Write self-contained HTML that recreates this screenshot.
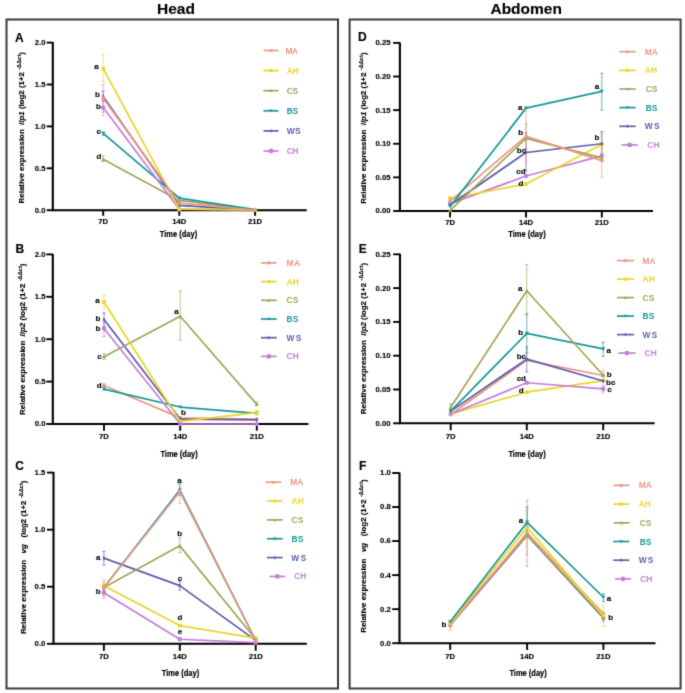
<!DOCTYPE html>
<html><head><meta charset="utf-8"><title>Figure</title>
<style>
html,body{margin:0;padding:0;background:#fff;}
body{width:685px;height:693px;overflow:hidden;}
svg{display:block;font-family:"Liberation Sans", sans-serif;will-change:transform;}
#wrap{width:685px;height:693px;}
.k{stroke:#000;stroke-width:0.14px;}
</style></head>
<body><div id="wrap">
<svg width="685" height="693" viewBox="0 0 685 693">
<defs><filter id="soft" x="0" y="0" width="685" height="693" filterUnits="userSpaceOnUse" color-interpolation-filters="sRGB"><feConvolveMatrix order="3" kernelMatrix="1 6 1 6 36 6 1 6 1" divisor="64" edgeMode="duplicate" preserveAlpha="true"/></filter></defs>
<g filter="url(#soft)">
<rect width="685" height="693" fill="#fff"/>
<rect x="6.5" y="19.5" width="331.5" height="669" fill="none" stroke="#3a3a3a" stroke-width="2"/>
<rect x="349.6" y="19.5" width="331" height="669" fill="none" stroke="#3a3a3a" stroke-width="2"/>
<text x="176" y="13.6" text-anchor="middle" font-size="15.5" font-weight="bold" class="k">Head</text>
<text x="526.2" y="13.6" text-anchor="middle" font-size="15.5" font-weight="bold" class="k">Abdomen</text>
<path d="M52.80,42.10V210.20H306.70" stroke="#000" stroke-width="2.1" fill="none"/>
<path d="M46.70,210.20H52.80" stroke="#000" stroke-width="1.9"/>
<text x="45.50" y="212.60" text-anchor="end" font-size="7.7" font-weight="bold" class="k">0.0</text>
<path d="M46.70,168.30H52.80" stroke="#000" stroke-width="1.9"/>
<text x="45.50" y="170.70" text-anchor="end" font-size="7.7" font-weight="bold" class="k">0.5</text>
<path d="M46.70,126.40H52.80" stroke="#000" stroke-width="1.9"/>
<text x="45.50" y="128.80" text-anchor="end" font-size="7.7" font-weight="bold" class="k">1.0</text>
<path d="M46.70,84.50H52.80" stroke="#000" stroke-width="1.9"/>
<text x="45.50" y="86.90" text-anchor="end" font-size="7.7" font-weight="bold" class="k">1.5</text>
<path d="M46.70,42.60H52.80" stroke="#000" stroke-width="1.9"/>
<text x="45.50" y="45.00" text-anchor="end" font-size="7.7" font-weight="bold" class="k">2.0</text>
<path d="M103.20,210.20V215.80" stroke="#000" stroke-width="1.9"/>
<text x="103.20" y="223.70" text-anchor="middle" font-size="7.7" font-weight="bold" class="k">7D</text>
<path d="M179.30,210.20V215.80" stroke="#000" stroke-width="1.9"/>
<text x="179.30" y="223.70" text-anchor="middle" font-size="7.7" font-weight="bold" class="k">14D</text>
<path d="M255.10,210.20V215.80" stroke="#000" stroke-width="1.9"/>
<text x="255.10" y="223.70" text-anchor="middle" font-size="7.7" font-weight="bold" class="k">21D</text>
<text x="178.50" y="236.70" text-anchor="middle" font-size="8.3" font-weight="bold" stroke="#000" stroke-width="0.18" textLength="37.4" lengthAdjust="spacingAndGlyphs">Time (day)</text>
<text x="15.10" y="41.50" font-size="12" font-weight="bold" class="k">A</text>
<text transform="translate(24.20,203.40) rotate(-90)" font-size="7.9" font-weight="bold" class="k" style="white-space:pre">Relative expression  <tspan font-style="italic">ilp1</tspan> (log2 (1+2 <tspan font-size="5.7" dy="-3.3">-ΔΔct</tspan><tspan dy="3.3">)</tspan></text>
<path d="M103.20,155.73V161.60M101.60,155.73h3.2M101.60,161.60h3.2" stroke="#A4A45A" stroke-width="0.9" fill="none" opacity="0.75"/>
<path d="M103.20,132.27V135.62M101.60,132.27h3.2M101.60,135.62h3.2" stroke="#17979A" stroke-width="0.9" fill="none" opacity="0.75"/>
<path d="M103.20,99.58V112.15M101.60,99.58h3.2M101.60,112.15h3.2" stroke="#C67ED9" stroke-width="0.9" fill="none" opacity="0.75"/>
<path d="M103.20,91.20V101.26M101.60,91.20h3.2M101.60,101.26h3.2" stroke="#5C5CAC" stroke-width="0.9" fill="none" opacity="0.75"/>
<path d="M103.20,54.33V81.99M101.60,54.33h3.2M101.60,81.99h3.2" stroke="#E9D628" stroke-width="0.9" fill="none" opacity="0.75"/>
<path d="M103.20,84.50V115.51M101.60,84.50h3.2M101.60,115.51h3.2" stroke="#EA9880" stroke-width="0.9" fill="none" opacity="0.75"/>
<polyline points="103.20,159.33 179.30,200.40 255.10,209.86" stroke="#A4A45A" stroke-width="1.7" fill="none" stroke-linejoin="round"/>
<path d="M103.20,157.33L105.20,160.93L101.20,160.93Z" fill="#A4A45A"/>
<path d="M179.30,198.40L181.30,202.00L177.30,202.00Z" fill="#A4A45A"/>
<path d="M255.10,207.86L257.10,211.46L253.10,211.46Z" fill="#A4A45A"/>
<polyline points="103.20,133.36 179.30,198.05 255.10,209.70" stroke="#17979A" stroke-width="1.7" fill="none" stroke-linejoin="round"/>
<path d="M103.20,135.36L105.20,131.76L101.20,131.76Z" fill="#17979A"/>
<path d="M179.30,200.05L181.30,196.45L177.30,196.45Z" fill="#17979A"/>
<path d="M255.10,211.70L257.10,208.10L253.10,208.10Z" fill="#17979A"/>
<polyline points="103.20,107.54 179.30,209.19 255.10,209.86" stroke="#C67ED9" stroke-width="1.7" fill="none" stroke-linejoin="round"/>
<circle cx="103.20" cy="107.54" r="2.20" fill="#C67ED9"/>
<circle cx="179.30" cy="209.19" r="2.20" fill="#C67ED9"/>
<circle cx="255.10" cy="209.86" r="2.20" fill="#C67ED9"/>
<polyline points="103.20,96.40 179.30,205.34 255.10,210.03" stroke="#5C5CAC" stroke-width="1.7" fill="none" stroke-linejoin="round"/>
<path d="M103.20,94.10L104.50,96.40L103.20,98.70L101.90,96.40Z" fill="#5C5CAC"/>
<path d="M179.30,203.04L180.60,205.34L179.30,207.64L178.00,205.34Z" fill="#5C5CAC"/>
<path d="M255.10,207.73L256.40,210.03L255.10,212.33L253.80,210.03Z" fill="#5C5CAC"/>
<polyline points="103.20,68.58 179.30,209.19 255.10,209.86" stroke="#E9D628" stroke-width="1.7" fill="none" stroke-linejoin="round"/>
<rect x="101.40" y="66.78" width="3.60" height="3.60" fill="#E9D628"/>
<rect x="177.50" y="207.39" width="3.60" height="3.60" fill="#E9D628"/>
<rect x="253.30" y="208.06" width="3.60" height="3.60" fill="#E9D628"/>
<polyline points="103.20,98.16 179.30,202.99 255.10,210.20" stroke="#EA9880" stroke-width="1.7" fill="none" stroke-linejoin="round"/>
<circle cx="103.20" cy="98.16" r="1.80" fill="#EA9880"/>
<circle cx="179.30" cy="202.99" r="1.80" fill="#EA9880"/>
<circle cx="255.10" cy="210.20" r="1.80" fill="#EA9880"/>
<text x="96.60" y="69.20" text-anchor="middle" font-size="8" font-weight="bold" class="k">a</text>
<text x="97.50" y="97.00" text-anchor="middle" font-size="8" font-weight="bold" class="k">b</text>
<text x="98.40" y="109.10" text-anchor="middle" font-size="8" font-weight="bold" class="k">b</text>
<text x="98.70" y="134.00" text-anchor="middle" font-size="8" font-weight="bold" class="k">c</text>
<text x="98.90" y="159.20" text-anchor="middle" font-size="8" font-weight="bold" class="k">d</text>
<path d="M263.50,50.50H278.50" stroke="#EA9880" stroke-width="1.7"/>
<circle cx="271.00" cy="50.50" r="1.53" fill="#EA9880"/>
<text x="285.50" y="53.50" font-size="8.4" font-weight="bold" letter-spacing="-0.4" fill="#EA9880">MA</text>
<path d="M263.50,70.60H278.50" stroke="#E9D628" stroke-width="1.7"/>
<rect x="269.47" y="69.07" width="3.06" height="3.06" fill="#E9D628"/>
<text x="286.80" y="73.60" font-size="8.4" font-weight="bold" letter-spacing="-0.4" fill="#E9D628">AH</text>
<path d="M263.50,90.70H278.50" stroke="#A4A45A" stroke-width="1.7"/>
<path d="M271.00,89.00L272.70,92.06L269.30,92.06Z" fill="#A4A45A"/>
<text x="286.80" y="93.70" font-size="8.4" font-weight="bold" letter-spacing="-0.4" fill="#A4A45A">CS</text>
<path d="M263.50,110.80H278.50" stroke="#17979A" stroke-width="1.7"/>
<path d="M271.00,112.50L272.70,109.44L269.30,109.44Z" fill="#17979A"/>
<text x="286.80" y="113.80" font-size="8.4" font-weight="bold" letter-spacing="-0.4" fill="#17979A">BS</text>
<path d="M263.50,130.90H278.50" stroke="#5C5CAC" stroke-width="1.7"/>
<path d="M271.00,128.94L272.11,130.90L271.00,132.86L269.89,130.90Z" fill="#5C5CAC"/>
<text x="286.80" y="133.90" font-size="8.4" font-weight="bold" letter-spacing="0.4" fill="#5C5CAC">WS</text>
<path d="M263.50,151.00H278.50" stroke="#C67ED9" stroke-width="1.7"/>
<circle cx="271.00" cy="151.00" r="2.38" fill="#C67ED9"/>
<text x="286.80" y="154.00" font-size="8.4" font-weight="bold" letter-spacing="-0.4" fill="#C67ED9">CH</text>
<path d="M52.80,253.90V424.00H308.40" stroke="#000" stroke-width="2.1" fill="none"/>
<path d="M46.30,424.00H52.80" stroke="#000" stroke-width="1.9"/>
<text x="45.50" y="426.40" text-anchor="end" font-size="7.7" font-weight="bold" class="k">0.0</text>
<path d="M46.30,381.60H52.80" stroke="#000" stroke-width="1.9"/>
<text x="45.50" y="384.00" text-anchor="end" font-size="7.7" font-weight="bold" class="k">0.5</text>
<path d="M46.30,339.20H52.80" stroke="#000" stroke-width="1.9"/>
<text x="45.50" y="341.60" text-anchor="end" font-size="7.7" font-weight="bold" class="k">1.0</text>
<path d="M46.30,296.80H52.80" stroke="#000" stroke-width="1.9"/>
<text x="45.50" y="299.20" text-anchor="end" font-size="7.7" font-weight="bold" class="k">1.5</text>
<path d="M46.30,254.40H52.80" stroke="#000" stroke-width="1.9"/>
<text x="45.50" y="256.80" text-anchor="end" font-size="7.7" font-weight="bold" class="k">2.0</text>
<path d="M104.00,424.00V430.70" stroke="#000" stroke-width="1.9"/>
<text x="104.00" y="439.00" text-anchor="middle" font-size="7.7" font-weight="bold" class="k">7D</text>
<path d="M180.20,424.00V430.70" stroke="#000" stroke-width="1.9"/>
<text x="180.20" y="439.00" text-anchor="middle" font-size="7.7" font-weight="bold" class="k">14D</text>
<path d="M256.80,424.00V430.70" stroke="#000" stroke-width="1.9"/>
<text x="256.80" y="439.00" text-anchor="middle" font-size="7.7" font-weight="bold" class="k">21D</text>
<text x="179.10" y="457.10" text-anchor="middle" font-size="8.3" font-weight="bold" stroke="#000" stroke-width="0.18" textLength="37.4" lengthAdjust="spacingAndGlyphs">Time (day)</text>
<text x="15.60" y="252.80" font-size="12" font-weight="bold" class="k">B</text>
<text transform="translate(24.80,414.90) rotate(-90)" font-size="7.9" font-weight="bold" class="k" style="white-space:pre">Relative expression  <tspan font-style="italic">ilp2</tspan> (log2 (1+2 <tspan font-size="5.7" dy="-3.3">-ΔΔct</tspan><tspan dy="3.3">)</tspan></text>
<path d="M104.00,383.30V387.54M102.40,383.30h3.2M102.40,387.54h3.2" stroke="#EA9880" stroke-width="0.9" fill="none" opacity="0.75"/>
<path d="M104.00,386.69V390.08M102.40,386.69h3.2M102.40,390.08h3.2" stroke="#17979A" stroke-width="0.9" fill="none" opacity="0.75"/>
<path d="M104.00,312.91V326.48M102.40,312.91h3.2M102.40,326.48h3.2" stroke="#5C5CAC" stroke-width="0.9" fill="none" opacity="0.75"/>
<path d="M104.00,353.62V359.55M102.40,353.62h3.2M102.40,359.55h3.2" stroke="#A4A45A" stroke-width="0.9" fill="none" opacity="0.75"/>
<path d="M180.20,290.86V340.05M178.60,290.86h3.2M178.60,340.05h3.2" stroke="#A4A45A" stroke-width="0.9" fill="none" opacity="0.75"/>
<path d="M256.80,401.95V405.34M255.20,401.95h3.2M255.20,405.34h3.2" stroke="#A4A45A" stroke-width="0.9" fill="none" opacity="0.75"/>
<path d="M104.00,295.10V308.67M102.40,295.10h3.2M102.40,308.67h3.2" stroke="#E9D628" stroke-width="0.9" fill="none" opacity="0.75"/>
<path d="M256.80,410.43V414.67M255.20,410.43h3.2M255.20,414.67h3.2" stroke="#E9D628" stroke-width="0.9" fill="none" opacity="0.75"/>
<path d="M104.00,322.24V336.66M102.40,322.24h3.2M102.40,336.66h3.2" stroke="#C67ED9" stroke-width="0.9" fill="none" opacity="0.75"/>
<polyline points="104.00,385.50 180.20,417.89 256.80,419.08" stroke="#EA9880" stroke-width="1.7" fill="none" stroke-linejoin="round"/>
<circle cx="104.00" cy="385.50" r="1.80" fill="#EA9880"/>
<circle cx="180.20" cy="417.89" r="1.80" fill="#EA9880"/>
<circle cx="256.80" cy="419.08" r="1.80" fill="#EA9880"/>
<polyline points="104.00,389.06 180.20,407.04 256.80,413.40" stroke="#17979A" stroke-width="1.7" fill="none" stroke-linejoin="round"/>
<path d="M104.00,391.06L106.00,387.46L102.00,387.46Z" fill="#17979A"/>
<path d="M180.20,409.04L182.20,405.44L178.20,405.44Z" fill="#17979A"/>
<path d="M256.80,415.40L258.80,411.80L254.80,411.80Z" fill="#17979A"/>
<polyline points="104.00,319.53 180.20,419.08 256.80,419.93" stroke="#5C5CAC" stroke-width="1.7" fill="none" stroke-linejoin="round"/>
<path d="M104.00,317.23L105.30,319.53L104.00,321.83L102.70,319.53Z" fill="#5C5CAC"/>
<path d="M180.20,416.78L181.50,419.08L180.20,421.38L178.90,419.08Z" fill="#5C5CAC"/>
<path d="M256.80,417.63L258.10,419.93L256.80,422.23L255.50,419.93Z" fill="#5C5CAC"/>
<polyline points="104.00,356.67 180.20,316.30 256.80,404.33" stroke="#A4A45A" stroke-width="1.7" fill="none" stroke-linejoin="round"/>
<path d="M104.00,354.67L106.00,358.27L102.00,358.27Z" fill="#A4A45A"/>
<path d="M180.20,314.30L182.20,317.90L178.20,317.90Z" fill="#A4A45A"/>
<path d="M256.80,402.33L258.80,405.93L254.80,405.93Z" fill="#A4A45A"/>
<polyline points="104.00,302.06 180.20,421.46 256.80,412.55" stroke="#E9D628" stroke-width="1.7" fill="none" stroke-linejoin="round"/>
<rect x="102.20" y="300.26" width="3.60" height="3.60" fill="#E9D628"/>
<rect x="178.40" y="419.66" width="3.60" height="3.60" fill="#E9D628"/>
<rect x="255.00" y="410.75" width="3.60" height="3.60" fill="#E9D628"/>
<polyline points="104.00,328.52 180.20,424.00 256.80,424.00" stroke="#C67ED9" stroke-width="1.7" fill="none" stroke-linejoin="round"/>
<circle cx="104.00" cy="328.52" r="2.20" fill="#C67ED9"/>
<circle cx="180.20" cy="424.00" r="2.20" fill="#C67ED9"/>
<circle cx="256.80" cy="424.00" r="2.20" fill="#C67ED9"/>
<text x="97.50" y="303.10" text-anchor="middle" font-size="8" font-weight="bold" class="k">a</text>
<text x="97.90" y="320.80" text-anchor="middle" font-size="8" font-weight="bold" class="k">b</text>
<text x="97.90" y="330.80" text-anchor="middle" font-size="8" font-weight="bold" class="k">b</text>
<text x="99.40" y="359.10" text-anchor="middle" font-size="8" font-weight="bold" class="k">c</text>
<text x="99.30" y="388.10" text-anchor="middle" font-size="8" font-weight="bold" class="k">d</text>
<text x="183.50" y="415.00" text-anchor="middle" font-size="8" font-weight="bold" class="k">b</text>
<text x="176.40" y="314.20" text-anchor="middle" font-size="8" font-weight="bold" class="k">a</text>
<path d="M261.00,262.90H276.70" stroke="#EA9880" stroke-width="1.7"/>
<circle cx="268.85" cy="262.90" r="1.53" fill="#EA9880"/>
<text x="286.50" y="265.90" font-size="8.4" font-weight="bold" letter-spacing="0.4" fill="#EA9880">MA</text>
<path d="M261.00,281.60H276.70" stroke="#E9D628" stroke-width="1.7"/>
<rect x="267.32" y="280.07" width="3.06" height="3.06" fill="#E9D628"/>
<text x="286.50" y="284.60" font-size="8.4" font-weight="bold" letter-spacing="0.2" fill="#E9D628">AH</text>
<path d="M261.00,300.30H276.70" stroke="#A4A45A" stroke-width="1.7"/>
<path d="M268.85,298.60L270.55,301.66L267.15,301.66Z" fill="#A4A45A"/>
<text x="286.50" y="303.30" font-size="8.4" font-weight="bold" letter-spacing="0.2" fill="#A4A45A">CS</text>
<path d="M261.00,319.00H276.70" stroke="#17979A" stroke-width="1.7"/>
<path d="M268.85,320.70L270.55,317.64L267.15,317.64Z" fill="#17979A"/>
<text x="286.50" y="322.00" font-size="8.4" font-weight="bold" letter-spacing="0.2" fill="#17979A">BS</text>
<path d="M261.00,337.70H276.70" stroke="#5C5CAC" stroke-width="1.7"/>
<path d="M268.85,335.75L269.96,337.70L268.85,339.65L267.75,337.70Z" fill="#5C5CAC"/>
<text x="286.50" y="340.70" font-size="8.4" font-weight="bold" letter-spacing="1.3" fill="#5C5CAC">WS</text>
<path d="M261.00,356.40H276.70" stroke="#C67ED9" stroke-width="1.7"/>
<circle cx="268.85" cy="356.40" r="2.38" fill="#C67ED9"/>
<text x="286.50" y="359.40" font-size="8.4" font-weight="bold" letter-spacing="0.2" fill="#C67ED9">CH</text>
<path d="M53.50,472.10V643.80H306.90" stroke="#000" stroke-width="2.1" fill="none"/>
<path d="M47.00,643.80H53.50" stroke="#000" stroke-width="1.9"/>
<text x="45.30" y="646.20" text-anchor="end" font-size="7.7" font-weight="bold" class="k">0.0</text>
<path d="M47.00,586.73H53.50" stroke="#000" stroke-width="1.9"/>
<text x="45.30" y="589.13" text-anchor="end" font-size="7.7" font-weight="bold" class="k">0.5</text>
<path d="M47.00,529.67H53.50" stroke="#000" stroke-width="1.9"/>
<text x="45.30" y="532.07" text-anchor="end" font-size="7.7" font-weight="bold" class="k">1.0</text>
<path d="M47.00,472.60H53.50" stroke="#000" stroke-width="1.9"/>
<text x="45.30" y="475.00" text-anchor="end" font-size="7.7" font-weight="bold" class="k">1.5</text>
<path d="M103.90,643.80V650.80" stroke="#000" stroke-width="1.9"/>
<text x="103.90" y="659.10" text-anchor="middle" font-size="7.7" font-weight="bold" class="k">7D</text>
<path d="M179.80,643.80V650.80" stroke="#000" stroke-width="1.9"/>
<text x="179.80" y="659.10" text-anchor="middle" font-size="7.7" font-weight="bold" class="k">14D</text>
<path d="M255.70,643.80V650.80" stroke="#000" stroke-width="1.9"/>
<text x="255.70" y="659.10" text-anchor="middle" font-size="7.7" font-weight="bold" class="k">21D</text>
<text x="180.50" y="676.00" text-anchor="middle" font-size="8.3" font-weight="bold" stroke="#000" stroke-width="0.18" textLength="37.4" lengthAdjust="spacingAndGlyphs">Time (day)</text>
<text x="15.20" y="470.00" font-size="12" font-weight="bold" class="k">C</text>
<text transform="translate(26.00,634.10) rotate(-90)" font-size="7.9" font-weight="bold" class="k" style="white-space:pre">Relative expression   <tspan font-style="italic">vg</tspan>   (log2 (1+2 <tspan font-size="5.7" dy="-3.3">-ΔΔct</tspan><tspan dy="3.3">)</tspan></text>
<path d="M103.90,551.35V565.05M102.30,551.35h3.2M102.30,565.05h3.2" stroke="#5C5CAC" stroke-width="0.9" fill="none" opacity="0.75"/>
<path d="M179.80,581.03V590.16M178.20,581.03h3.2M178.20,590.16h3.2" stroke="#5C5CAC" stroke-width="0.9" fill="none" opacity="0.75"/>
<path d="M103.90,584.45V590.16M102.30,584.45h3.2M102.30,590.16h3.2" stroke="#A4A45A" stroke-width="0.9" fill="none" opacity="0.75"/>
<path d="M179.80,537.66V552.49M178.20,537.66h3.2M178.20,552.49h3.2" stroke="#A4A45A" stroke-width="0.9" fill="none" opacity="0.75"/>
<path d="M103.90,582.17V590.16M102.30,582.17h3.2M102.30,590.16h3.2" stroke="#E9D628" stroke-width="0.9" fill="none" opacity="0.75"/>
<path d="M103.90,589.02V595.86M102.30,589.02h3.2M102.30,595.86h3.2" stroke="#C67ED9" stroke-width="0.9" fill="none" opacity="0.75"/>
<path d="M103.90,584.45V591.30M102.30,584.45h3.2M102.30,591.30h3.2" stroke="#17979A" stroke-width="0.9" fill="none" opacity="0.75"/>
<path d="M179.80,484.01V495.43M178.20,484.01h3.2M178.20,495.43h3.2" stroke="#17979A" stroke-width="0.9" fill="none" opacity="0.75"/>
<path d="M103.90,579.89V598.15M102.30,579.89h3.2M102.30,598.15h3.2" stroke="#EA9880" stroke-width="0.9" fill="none" opacity="0.75"/>
<path d="M179.80,486.30V503.42M178.20,486.30h3.2M178.20,503.42h3.2" stroke="#EA9880" stroke-width="0.9" fill="none" opacity="0.75"/>
<polyline points="103.90,558.09 179.80,585.59 255.70,640.38" stroke="#5C5CAC" stroke-width="1.7" fill="none" stroke-linejoin="round"/>
<path d="M103.90,555.79L105.20,558.09L103.90,560.39L102.60,558.09Z" fill="#5C5CAC"/>
<path d="M179.80,583.29L181.10,585.59L179.80,587.89L178.50,585.59Z" fill="#5C5CAC"/>
<path d="M255.70,638.08L257.00,640.38L255.70,642.68L254.40,640.38Z" fill="#5C5CAC"/>
<polyline points="103.90,587.53 179.80,545.87 255.70,639.23" stroke="#A4A45A" stroke-width="1.7" fill="none" stroke-linejoin="round"/>
<path d="M103.90,585.53L105.90,589.13L101.90,589.13Z" fill="#A4A45A"/>
<path d="M179.80,543.87L181.80,547.47L177.80,547.47Z" fill="#A4A45A"/>
<path d="M255.70,637.23L257.70,640.83L253.70,640.83Z" fill="#A4A45A"/>
<polyline points="103.90,585.82 179.80,625.54 255.70,638.09" stroke="#E9D628" stroke-width="1.7" fill="none" stroke-linejoin="round"/>
<rect x="102.10" y="584.02" width="3.60" height="3.60" fill="#E9D628"/>
<rect x="178.00" y="623.74" width="3.60" height="3.60" fill="#E9D628"/>
<rect x="253.90" y="636.29" width="3.60" height="3.60" fill="#E9D628"/>
<polyline points="103.90,592.78 179.80,639.23 255.70,642.66" stroke="#C67ED9" stroke-width="1.7" fill="none" stroke-linejoin="round"/>
<circle cx="103.90" cy="592.78" r="2.20" fill="#C67ED9"/>
<circle cx="179.80" cy="639.23" r="2.20" fill="#C67ED9"/>
<circle cx="255.70" cy="642.66" r="2.20" fill="#C67ED9"/>
<polyline points="103.90,587.53 179.80,490.06 255.70,640.38" stroke="#17979A" stroke-width="1.7" fill="none" stroke-linejoin="round"/>
<path d="M103.90,589.53L105.90,585.93L101.90,585.93Z" fill="#17979A"/>
<path d="M179.80,492.06L181.80,488.46L177.80,488.46Z" fill="#17979A"/>
<path d="M255.70,642.38L257.70,638.78L253.70,638.78Z" fill="#17979A"/>
<polyline points="103.90,587.53 179.80,491.66 255.70,640.38" stroke="#EA9880" stroke-width="1.7" fill="none" stroke-linejoin="round"/>
<circle cx="103.90" cy="587.53" r="1.80" fill="#EA9880"/>
<circle cx="179.80" cy="491.66" r="1.80" fill="#EA9880"/>
<circle cx="255.70" cy="640.38" r="1.80" fill="#EA9880"/>
<text x="98.30" y="559.60" text-anchor="middle" font-size="8" font-weight="bold" class="k">a</text>
<text x="98.30" y="593.90" text-anchor="middle" font-size="8" font-weight="bold" class="k">b</text>
<text x="179.60" y="483.10" text-anchor="middle" font-size="8" font-weight="bold" class="k">a</text>
<text x="179.60" y="536.20" text-anchor="middle" font-size="8" font-weight="bold" class="k">b</text>
<text x="179.90" y="580.50" text-anchor="middle" font-size="8" font-weight="bold" class="k">c</text>
<text x="179.90" y="619.50" text-anchor="middle" font-size="8" font-weight="bold" class="k">d</text>
<text x="179.90" y="634.20" text-anchor="middle" font-size="8" font-weight="bold" class="k">e</text>
<path d="M265.50,482.20H281.20" stroke="#EA9880" stroke-width="1.7"/>
<circle cx="273.35" cy="482.20" r="1.53" fill="#EA9880"/>
<text x="290.30" y="485.20" font-size="8.4" font-weight="bold" letter-spacing="0.1" fill="#EA9880">MA</text>
<path d="M267.00,501.05H282.70" stroke="#E9D628" stroke-width="1.7"/>
<rect x="273.32" y="499.52" width="3.06" height="3.06" fill="#E9D628"/>
<text x="291.60" y="504.05" font-size="8.4" font-weight="bold" letter-spacing="0.1" fill="#E9D628">AH</text>
<path d="M267.00,519.90H282.70" stroke="#A4A45A" stroke-width="1.7"/>
<path d="M274.85,518.20L276.55,521.26L273.15,521.26Z" fill="#A4A45A"/>
<text x="291.60" y="522.90" font-size="8.4" font-weight="bold" letter-spacing="0.1" fill="#A4A45A">CS</text>
<path d="M267.00,538.75H282.70" stroke="#17979A" stroke-width="1.7"/>
<path d="M274.85,540.45L276.55,537.39L273.15,537.39Z" fill="#17979A"/>
<text x="291.60" y="541.75" font-size="8.4" font-weight="bold" letter-spacing="0.1" fill="#17979A">BS</text>
<path d="M267.00,557.60H282.70" stroke="#5C5CAC" stroke-width="1.7"/>
<path d="M274.85,555.64L275.96,557.60L274.85,559.56L273.75,557.60Z" fill="#5C5CAC"/>
<text x="291.30" y="560.60" font-size="8.4" font-weight="bold" letter-spacing="1.3" fill="#5C5CAC">WS</text>
<path d="M269.60,576.45H285.30" stroke="#C67ED9" stroke-width="1.7"/>
<circle cx="277.45" cy="576.45" r="2.38" fill="#C67ED9"/>
<text x="294.20" y="579.45" font-size="8.4" font-weight="bold" letter-spacing="0.1" fill="#C67ED9">CH</text>
<path d="M399.90,42.40V211.00H653.00" stroke="#000" stroke-width="2.1" fill="none"/>
<path d="M393.20,211.00H399.90" stroke="#000" stroke-width="1.9"/>
<text x="390.50" y="213.40" text-anchor="end" font-size="7.7" font-weight="bold" class="k">0.00</text>
<path d="M393.20,177.38H399.90" stroke="#000" stroke-width="1.9"/>
<text x="390.50" y="179.78" text-anchor="end" font-size="7.7" font-weight="bold" class="k">0.05</text>
<path d="M393.20,143.76H399.90" stroke="#000" stroke-width="1.9"/>
<text x="390.50" y="146.16" text-anchor="end" font-size="7.7" font-weight="bold" class="k">0.10</text>
<path d="M393.20,110.14H399.90" stroke="#000" stroke-width="1.9"/>
<text x="390.50" y="112.54" text-anchor="end" font-size="7.7" font-weight="bold" class="k">0.15</text>
<path d="M393.20,76.52H399.90" stroke="#000" stroke-width="1.9"/>
<text x="390.50" y="78.92" text-anchor="end" font-size="7.7" font-weight="bold" class="k">0.20</text>
<path d="M393.20,42.90H399.90" stroke="#000" stroke-width="1.9"/>
<text x="390.50" y="45.30" text-anchor="end" font-size="7.7" font-weight="bold" class="k">0.25</text>
<path d="M450.10,211.00V217.50" stroke="#000" stroke-width="1.9"/>
<text x="450.10" y="225.40" text-anchor="middle" font-size="7.7" font-weight="bold" class="k">7D</text>
<path d="M526.00,211.00V217.50" stroke="#000" stroke-width="1.9"/>
<text x="526.00" y="225.40" text-anchor="middle" font-size="7.7" font-weight="bold" class="k">14D</text>
<path d="M601.80,211.00V217.50" stroke="#000" stroke-width="1.9"/>
<text x="601.80" y="225.40" text-anchor="middle" font-size="7.7" font-weight="bold" class="k">21D</text>
<text x="527.00" y="236.70" text-anchor="middle" font-size="8.3" font-weight="bold" stroke="#000" stroke-width="0.18" textLength="37.4" lengthAdjust="spacingAndGlyphs">Time (day)</text>
<text x="357.90" y="41.30" font-size="12" font-weight="bold" class="k">D</text>
<text transform="translate(366.20,203.80) rotate(-90)" font-size="7.9" font-weight="bold" class="k" style="white-space:pre">Relative expression  <tspan font-style="italic">ilp1</tspan> (log2 (1+2 <tspan font-size="5.7" dy="-3.3">-ΔΔct</tspan><tspan dy="3.3">)</tspan></text>
<path d="M601.80,133.67V153.85M600.20,133.67h3.2M600.20,153.85h3.2" stroke="#E9D628" stroke-width="0.9" fill="none" opacity="0.75"/>
<path d="M526.00,133.00V170.66M524.40,133.00h3.2M524.40,170.66h3.2" stroke="#5C5CAC" stroke-width="0.9" fill="none" opacity="0.75"/>
<path d="M601.80,131.66V153.85M600.20,131.66h3.2M600.20,153.85h3.2" stroke="#5C5CAC" stroke-width="0.9" fill="none" opacity="0.75"/>
<path d="M526.00,123.59V148.47M524.40,123.59h3.2M524.40,148.47h3.2" stroke="#A4A45A" stroke-width="0.9" fill="none" opacity="0.75"/>
<path d="M526.00,111.48V161.91M524.40,111.48h3.2M524.40,161.91h3.2" stroke="#EA9880" stroke-width="0.9" fill="none" opacity="0.75"/>
<path d="M601.80,148.47V177.38M600.20,148.47h3.2M600.20,177.38h3.2" stroke="#EA9880" stroke-width="0.9" fill="none" opacity="0.75"/>
<path d="M601.80,73.16V110.14M600.20,73.16h3.2M600.20,110.14h3.2" stroke="#17979A" stroke-width="0.9" fill="none" opacity="0.75"/>
<polyline points="450.10,203.60 526.00,176.04 601.80,155.86" stroke="#C67ED9" stroke-width="1.7" fill="none" stroke-linejoin="round"/>
<circle cx="450.10" cy="203.60" r="2.20" fill="#C67ED9"/>
<circle cx="526.00" cy="176.04" r="2.20" fill="#C67ED9"/>
<circle cx="601.80" cy="155.86" r="2.20" fill="#C67ED9"/>
<polyline points="450.10,198.22 526.00,184.10 601.80,144.43" stroke="#E9D628" stroke-width="1.7" fill="none" stroke-linejoin="round"/>
<rect x="448.30" y="196.42" width="3.60" height="3.60" fill="#E9D628"/>
<rect x="524.20" y="182.30" width="3.60" height="3.60" fill="#E9D628"/>
<rect x="600.00" y="142.63" width="3.60" height="3.60" fill="#E9D628"/>
<polyline points="450.10,204.95 526.00,152.50 601.80,143.76" stroke="#5C5CAC" stroke-width="1.7" fill="none" stroke-linejoin="round"/>
<path d="M450.10,202.65L451.40,204.95L450.10,207.25L448.80,204.95Z" fill="#5C5CAC"/>
<path d="M526.00,150.20L527.30,152.50L526.00,154.80L524.70,152.50Z" fill="#5C5CAC"/>
<path d="M601.80,141.46L603.10,143.76L601.80,146.06L600.50,143.76Z" fill="#5C5CAC"/>
<polyline points="450.10,210.33 526.00,138.38 601.80,157.88" stroke="#A4A45A" stroke-width="1.7" fill="none" stroke-linejoin="round"/>
<path d="M450.10,208.33L452.10,211.93L448.10,211.93Z" fill="#A4A45A"/>
<path d="M526.00,136.38L528.00,139.98L524.00,139.98Z" fill="#A4A45A"/>
<path d="M601.80,155.88L603.80,159.48L599.80,159.48Z" fill="#A4A45A"/>
<polyline points="450.10,201.18 526.00,136.36 601.80,160.57" stroke="#EA9880" stroke-width="1.7" fill="none" stroke-linejoin="round"/>
<circle cx="450.10" cy="201.18" r="1.80" fill="#EA9880"/>
<circle cx="526.00" cy="136.36" r="1.80" fill="#EA9880"/>
<circle cx="601.80" cy="160.57" r="1.80" fill="#EA9880"/>
<polyline points="450.10,206.49 526.00,108.12 601.80,91.31" stroke="#17979A" stroke-width="1.7" fill="none" stroke-linejoin="round"/>
<path d="M450.10,208.49L452.10,204.89L448.10,204.89Z" fill="#17979A"/>
<path d="M526.00,110.12L528.00,106.52L524.00,106.52Z" fill="#17979A"/>
<path d="M601.80,93.31L603.80,89.71L599.80,89.71Z" fill="#17979A"/>
<text x="520.20" y="109.60" text-anchor="middle" font-size="8" font-weight="bold" class="k">a</text>
<text x="520.60" y="135.40" text-anchor="middle" font-size="8" font-weight="bold" class="k">b</text>
<text x="521.50" y="153.30" text-anchor="middle" font-size="8" font-weight="bold" class="k">bc</text>
<text x="521.00" y="173.80" text-anchor="middle" font-size="8" font-weight="bold" class="k">cd</text>
<text x="521.00" y="186.20" text-anchor="middle" font-size="8" font-weight="bold" class="k">d</text>
<text x="597.00" y="88.80" text-anchor="middle" font-size="8" font-weight="bold" class="k">a</text>
<text x="597.00" y="140.40" text-anchor="middle" font-size="8" font-weight="bold" class="k">b</text>
<path d="M619.30,51.70H635.70" stroke="#EA9880" stroke-width="1.7"/>
<circle cx="627.50" cy="51.70" r="1.53" fill="#EA9880"/>
<text x="644.80" y="54.70" font-size="8.4" font-weight="bold" letter-spacing="0.1" fill="#EA9880">MA</text>
<path d="M619.30,70.35H635.70" stroke="#E9D628" stroke-width="1.7"/>
<rect x="625.97" y="68.82" width="3.06" height="3.06" fill="#E9D628"/>
<text x="644.80" y="73.35" font-size="8.4" font-weight="bold" letter-spacing="0.1" fill="#E9D628">AH</text>
<path d="M619.30,89.00H635.70" stroke="#A4A45A" stroke-width="1.7"/>
<path d="M627.50,87.30L629.20,90.36L625.80,90.36Z" fill="#A4A45A"/>
<text x="645.70" y="92.00" font-size="8.4" font-weight="bold" letter-spacing="0.1" fill="#A4A45A">CS</text>
<path d="M619.30,107.65H635.70" stroke="#17979A" stroke-width="1.7"/>
<path d="M627.50,109.35L629.20,106.29L625.80,106.29Z" fill="#17979A"/>
<text x="645.70" y="110.65" font-size="8.4" font-weight="bold" letter-spacing="0.1" fill="#17979A">BS</text>
<path d="M619.30,126.30H635.70" stroke="#5C5CAC" stroke-width="1.7"/>
<path d="M627.50,124.34L628.61,126.30L627.50,128.25L626.39,126.30Z" fill="#5C5CAC"/>
<text x="644.80" y="129.30" font-size="8.4" font-weight="bold" letter-spacing="1.4" fill="#5C5CAC">WS</text>
<path d="M621.50,144.95H637.90" stroke="#C67ED9" stroke-width="1.7"/>
<circle cx="629.70" cy="144.95" r="2.38" fill="#C67ED9"/>
<text x="647.30" y="147.95" font-size="8.4" font-weight="bold" letter-spacing="0.1" fill="#C67ED9">CH</text>
<path d="M400.00,253.80V423.30H654.60" stroke="#000" stroke-width="2.1" fill="none"/>
<path d="M393.20,423.30H400.00" stroke="#000" stroke-width="1.9"/>
<text x="390.50" y="425.70" text-anchor="end" font-size="7.7" font-weight="bold" class="k">0.00</text>
<path d="M393.20,389.50H400.00" stroke="#000" stroke-width="1.9"/>
<text x="390.50" y="391.90" text-anchor="end" font-size="7.7" font-weight="bold" class="k">0.05</text>
<path d="M393.20,355.70H400.00" stroke="#000" stroke-width="1.9"/>
<text x="390.50" y="358.10" text-anchor="end" font-size="7.7" font-weight="bold" class="k">0.10</text>
<path d="M393.20,321.90H400.00" stroke="#000" stroke-width="1.9"/>
<text x="390.50" y="324.30" text-anchor="end" font-size="7.7" font-weight="bold" class="k">0.15</text>
<path d="M393.20,288.10H400.00" stroke="#000" stroke-width="1.9"/>
<text x="390.50" y="290.50" text-anchor="end" font-size="7.7" font-weight="bold" class="k">0.20</text>
<path d="M393.20,254.30H400.00" stroke="#000" stroke-width="1.9"/>
<text x="390.50" y="256.70" text-anchor="end" font-size="7.7" font-weight="bold" class="k">0.25</text>
<path d="M450.70,423.30V430.30" stroke="#000" stroke-width="1.9"/>
<text x="450.70" y="439.00" text-anchor="middle" font-size="7.7" font-weight="bold" class="k">7D</text>
<path d="M526.80,423.30V430.30" stroke="#000" stroke-width="1.9"/>
<text x="526.80" y="439.00" text-anchor="middle" font-size="7.7" font-weight="bold" class="k">14D</text>
<path d="M603.20,423.30V430.30" stroke="#000" stroke-width="1.9"/>
<text x="603.20" y="439.00" text-anchor="middle" font-size="7.7" font-weight="bold" class="k">21D</text>
<text x="527.10" y="456.60" text-anchor="middle" font-size="8.3" font-weight="bold" stroke="#000" stroke-width="0.18" textLength="37.4" lengthAdjust="spacingAndGlyphs">Time (day)</text>
<text x="358.70" y="252.80" font-size="12" font-weight="bold" class="k">E</text>
<text transform="translate(366.20,414.20) rotate(-90)" font-size="7.9" font-weight="bold" class="k" style="white-space:pre">Relative expression  <tspan font-style="italic">ilp2</tspan> (log2 (1+2 <tspan font-size="5.7" dy="-3.3">-ΔΔct</tspan><tspan dy="3.3">)</tspan></text>
<path d="M603.20,385.44V392.20M601.60,385.44h3.2M601.60,392.20h3.2" stroke="#C67ED9" stroke-width="0.9" fill="none" opacity="0.75"/>
<path d="M603.20,370.57V379.36M601.60,370.57h3.2M601.60,379.36h3.2" stroke="#EA9880" stroke-width="0.9" fill="none" opacity="0.75"/>
<path d="M526.80,346.91V371.92M525.20,346.91h3.2M525.20,371.92h3.2" stroke="#5C5CAC" stroke-width="0.9" fill="none" opacity="0.75"/>
<path d="M526.80,313.79V353.00M525.20,313.79h3.2M525.20,353.00h3.2" stroke="#17979A" stroke-width="0.9" fill="none" opacity="0.75"/>
<path d="M603.20,342.18V356.38M601.60,342.18h3.2M601.60,356.38h3.2" stroke="#17979A" stroke-width="0.9" fill="none" opacity="0.75"/>
<path d="M450.70,403.70V409.78M449.10,403.70h3.2M449.10,409.78h3.2" stroke="#A4A45A" stroke-width="0.9" fill="none" opacity="0.75"/>
<path d="M526.80,264.44V315.14M525.20,264.44h3.2M525.20,315.14h3.2" stroke="#A4A45A" stroke-width="0.9" fill="none" opacity="0.75"/>
<polyline points="450.70,413.84 526.80,392.20 603.20,380.71" stroke="#E9D628" stroke-width="1.7" fill="none" stroke-linejoin="round"/>
<rect x="448.90" y="412.04" width="3.60" height="3.60" fill="#E9D628"/>
<rect x="525.00" y="390.40" width="3.60" height="3.60" fill="#E9D628"/>
<rect x="601.40" y="378.91" width="3.60" height="3.60" fill="#E9D628"/>
<polyline points="450.70,414.31 526.80,382.74 603.20,388.82" stroke="#C67ED9" stroke-width="1.7" fill="none" stroke-linejoin="round"/>
<circle cx="450.70" cy="414.31" r="2.20" fill="#C67ED9"/>
<circle cx="526.80" cy="382.74" r="2.20" fill="#C67ED9"/>
<circle cx="603.20" cy="388.82" r="2.20" fill="#C67ED9"/>
<polyline points="450.70,414.31 526.80,360.43 603.20,375.51" stroke="#EA9880" stroke-width="1.7" fill="none" stroke-linejoin="round"/>
<circle cx="450.70" cy="414.31" r="1.80" fill="#EA9880"/>
<circle cx="526.80" cy="360.43" r="1.80" fill="#EA9880"/>
<circle cx="603.20" cy="375.51" r="1.80" fill="#EA9880"/>
<polyline points="450.70,411.13 526.80,359.08 603.20,380.98" stroke="#5C5CAC" stroke-width="1.7" fill="none" stroke-linejoin="round"/>
<path d="M450.70,408.83L452.00,411.13L450.70,413.43L449.40,411.13Z" fill="#5C5CAC"/>
<path d="M526.80,356.78L528.10,359.08L526.80,361.38L525.50,359.08Z" fill="#5C5CAC"/>
<path d="M603.20,378.68L604.50,380.98L603.20,383.28L601.90,380.98Z" fill="#5C5CAC"/>
<polyline points="450.70,411.13 526.80,333.39 603.20,348.94" stroke="#17979A" stroke-width="1.7" fill="none" stroke-linejoin="round"/>
<path d="M450.70,413.13L452.70,409.53L448.70,409.53Z" fill="#17979A"/>
<path d="M526.80,335.39L528.80,331.79L524.80,331.79Z" fill="#17979A"/>
<path d="M603.20,350.94L605.20,347.34L601.20,347.34Z" fill="#17979A"/>
<polyline points="450.70,407.28 526.80,290.80 603.20,375.30" stroke="#A4A45A" stroke-width="1.7" fill="none" stroke-linejoin="round"/>
<path d="M450.70,405.28L452.70,408.88L448.70,408.88Z" fill="#A4A45A"/>
<path d="M526.80,288.80L528.80,292.40L524.80,292.40Z" fill="#A4A45A"/>
<path d="M603.20,373.30L605.20,376.90L601.20,376.90Z" fill="#A4A45A"/>
<text x="520.30" y="291.40" text-anchor="middle" font-size="8" font-weight="bold" class="k">a</text>
<text x="520.70" y="334.90" text-anchor="middle" font-size="8" font-weight="bold" class="k">b</text>
<text x="521.30" y="358.50" text-anchor="middle" font-size="8" font-weight="bold" class="k">bc</text>
<text x="521.30" y="381.30" text-anchor="middle" font-size="8" font-weight="bold" class="k">cd</text>
<text x="521.30" y="392.50" text-anchor="middle" font-size="8" font-weight="bold" class="k">d</text>
<text x="608.70" y="352.50" text-anchor="middle" font-size="8" font-weight="bold" class="k">a</text>
<text x="609.20" y="376.90" text-anchor="middle" font-size="8" font-weight="bold" class="k">b</text>
<text x="610.70" y="384.50" text-anchor="middle" font-size="8" font-weight="bold" class="k">bc</text>
<text x="609.50" y="392.30" text-anchor="middle" font-size="8" font-weight="bold" class="k">c</text>
<path d="M617.00,260.60H634.00" stroke="#EA9880" stroke-width="1.7"/>
<circle cx="625.50" cy="260.60" r="1.53" fill="#EA9880"/>
<text x="642.40" y="263.60" font-size="8.4" font-weight="bold" letter-spacing="0.2" fill="#EA9880">MA</text>
<path d="M617.00,279.10H634.00" stroke="#E9D628" stroke-width="1.7"/>
<rect x="623.97" y="277.57" width="3.06" height="3.06" fill="#E9D628"/>
<text x="642.60" y="282.10" font-size="8.4" font-weight="bold" letter-spacing="0.2" fill="#E9D628">AH</text>
<path d="M617.00,297.60H634.00" stroke="#A4A45A" stroke-width="1.7"/>
<path d="M625.50,295.90L627.20,298.96L623.80,298.96Z" fill="#A4A45A"/>
<text x="642.60" y="300.60" font-size="8.4" font-weight="bold" letter-spacing="0.2" fill="#A4A45A">CS</text>
<path d="M617.00,316.10H634.00" stroke="#17979A" stroke-width="1.7"/>
<path d="M625.50,317.80L627.20,314.74L623.80,314.74Z" fill="#17979A"/>
<text x="642.60" y="319.10" font-size="8.4" font-weight="bold" letter-spacing="0.2" fill="#17979A">BS</text>
<path d="M617.00,334.60H634.00" stroke="#5C5CAC" stroke-width="1.7"/>
<path d="M625.50,332.65L626.61,334.60L625.50,336.56L624.39,334.60Z" fill="#5C5CAC"/>
<text x="642.40" y="337.60" font-size="8.4" font-weight="bold" letter-spacing="1.3" fill="#5C5CAC">WS</text>
<path d="M618.50,353.10H635.50" stroke="#C67ED9" stroke-width="1.7"/>
<circle cx="627.00" cy="353.10" r="2.38" fill="#C67ED9"/>
<text x="644.40" y="356.10" font-size="8.4" font-weight="bold" letter-spacing="0.2" fill="#C67ED9">CH</text>
<path d="M399.50,472.50V643.20H655.50" stroke="#000" stroke-width="2.1" fill="none"/>
<path d="M392.20,643.20H399.50" stroke="#000" stroke-width="1.9"/>
<text x="390.80" y="645.60" text-anchor="end" font-size="7.7" font-weight="bold" class="k">0.0</text>
<path d="M392.20,609.16H399.50" stroke="#000" stroke-width="1.9"/>
<text x="390.80" y="611.56" text-anchor="end" font-size="7.7" font-weight="bold" class="k">0.2</text>
<path d="M392.20,575.12H399.50" stroke="#000" stroke-width="1.9"/>
<text x="390.80" y="577.52" text-anchor="end" font-size="7.7" font-weight="bold" class="k">0.4</text>
<path d="M392.20,541.08H399.50" stroke="#000" stroke-width="1.9"/>
<text x="390.80" y="543.48" text-anchor="end" font-size="7.7" font-weight="bold" class="k">0.6</text>
<path d="M392.20,507.04H399.50" stroke="#000" stroke-width="1.9"/>
<text x="390.80" y="509.44" text-anchor="end" font-size="7.7" font-weight="bold" class="k">0.8</text>
<path d="M392.20,473.00H399.50" stroke="#000" stroke-width="1.9"/>
<text x="390.80" y="475.40" text-anchor="end" font-size="7.7" font-weight="bold" class="k">1.0</text>
<path d="M450.20,643.20V649.90" stroke="#000" stroke-width="1.9"/>
<text x="450.20" y="659.00" text-anchor="middle" font-size="7.7" font-weight="bold" class="k">7D</text>
<path d="M527.10,643.20V649.90" stroke="#000" stroke-width="1.9"/>
<text x="527.10" y="659.00" text-anchor="middle" font-size="7.7" font-weight="bold" class="k">14D</text>
<path d="M603.40,643.20V649.90" stroke="#000" stroke-width="1.9"/>
<text x="603.40" y="659.00" text-anchor="middle" font-size="7.7" font-weight="bold" class="k">21D</text>
<text x="528.10" y="676.10" text-anchor="middle" font-size="8.3" font-weight="bold" stroke="#000" stroke-width="0.18" textLength="37.4" lengthAdjust="spacingAndGlyphs">Time (day)</text>
<text x="359.10" y="470.00" font-size="12" font-weight="bold" class="k">F</text>
<text transform="translate(366.20,632.80) rotate(-90)" font-size="7.9" font-weight="bold" class="k" style="white-space:pre">Relative expression   <tspan font-style="italic">vg</tspan>   (log2 (1+2 <tspan font-size="5.7" dy="-3.3">-ΔΔct</tspan><tspan dy="3.3">)</tspan></text>
<path d="M527.10,500.23V566.61M525.50,500.23h3.2M525.50,566.61h3.2" stroke="#C67ED9" stroke-width="0.9" fill="none" opacity="0.75"/>
<path d="M603.40,614.27V621.07M601.80,614.27h3.2M601.80,621.07h3.2" stroke="#5C5CAC" stroke-width="0.9" fill="none" opacity="0.75"/>
<path d="M450.20,621.07V630.44M448.60,621.07h3.2M448.60,630.44h3.2" stroke="#EA9880" stroke-width="0.9" fill="none" opacity="0.75"/>
<path d="M527.10,520.66V554.70M525.50,520.66h3.2M525.50,554.70h3.2" stroke="#EA9880" stroke-width="0.9" fill="none" opacity="0.75"/>
<path d="M527.10,510.44V541.08M525.50,510.44h3.2M525.50,541.08h3.2" stroke="#E9D628" stroke-width="0.9" fill="none" opacity="0.75"/>
<path d="M603.40,605.76V626.18M601.80,605.76h3.2M601.80,626.18h3.2" stroke="#E9D628" stroke-width="0.9" fill="none" opacity="0.75"/>
<path d="M527.10,507.04V534.27M525.50,507.04h3.2M525.50,534.27h3.2" stroke="#17979A" stroke-width="0.9" fill="none" opacity="0.75"/>
<path d="M603.40,593.84V601.50M601.80,593.84h3.2M601.80,601.50h3.2" stroke="#17979A" stroke-width="0.9" fill="none" opacity="0.75"/>
<polyline points="450.20,625.33 527.10,535.29 603.40,617.84" stroke="#C67ED9" stroke-width="1.7" fill="none" stroke-linejoin="round"/>
<circle cx="450.20" cy="625.33" r="2.20" fill="#C67ED9"/>
<circle cx="527.10" cy="535.29" r="2.20" fill="#C67ED9"/>
<circle cx="603.40" cy="617.84" r="2.20" fill="#C67ED9"/>
<polyline points="450.20,624.48 527.10,535.29 603.40,617.67" stroke="#5C5CAC" stroke-width="1.7" fill="none" stroke-linejoin="round"/>
<path d="M450.20,622.18L451.50,624.48L450.20,626.78L448.90,624.48Z" fill="#5C5CAC"/>
<path d="M527.10,532.99L528.40,535.29L527.10,537.59L525.80,535.29Z" fill="#5C5CAC"/>
<path d="M603.40,615.37L604.70,617.67L603.40,619.97L602.10,617.67Z" fill="#5C5CAC"/>
<polyline points="450.20,622.78 527.10,535.29 603.40,616.82" stroke="#A4A45A" stroke-width="1.7" fill="none" stroke-linejoin="round"/>
<path d="M450.20,620.78L452.20,624.38L448.20,624.38Z" fill="#A4A45A"/>
<path d="M527.10,533.29L529.10,536.89L525.10,536.89Z" fill="#A4A45A"/>
<path d="M603.40,614.82L605.40,618.42L601.40,618.42Z" fill="#A4A45A"/>
<polyline points="450.20,624.99 527.10,532.74 603.40,613.59" stroke="#EA9880" stroke-width="1.7" fill="none" stroke-linejoin="round"/>
<circle cx="450.20" cy="624.99" r="1.80" fill="#EA9880"/>
<circle cx="527.10" cy="532.74" r="1.80" fill="#EA9880"/>
<circle cx="603.40" cy="613.59" r="1.80" fill="#EA9880"/>
<polyline points="450.20,623.12 527.10,527.46 603.40,615.80" stroke="#E9D628" stroke-width="1.7" fill="none" stroke-linejoin="round"/>
<rect x="448.40" y="621.32" width="3.60" height="3.60" fill="#E9D628"/>
<rect x="525.30" y="525.66" width="3.60" height="3.60" fill="#E9D628"/>
<rect x="601.60" y="614.00" width="3.60" height="3.60" fill="#E9D628"/>
<polyline points="450.20,621.75 527.10,522.36 603.40,597.25" stroke="#17979A" stroke-width="1.7" fill="none" stroke-linejoin="round"/>
<path d="M450.20,623.75L452.20,620.15L448.20,620.15Z" fill="#17979A"/>
<path d="M527.10,524.36L529.10,520.76L525.10,520.76Z" fill="#17979A"/>
<path d="M603.40,599.25L605.40,595.65L601.40,595.65Z" fill="#17979A"/>
<text x="444.00" y="626.70" text-anchor="middle" font-size="8" font-weight="bold" class="k">b</text>
<text x="521.00" y="523.40" text-anchor="middle" font-size="8" font-weight="bold" class="k">a</text>
<text x="608.90" y="601.10" text-anchor="middle" font-size="8" font-weight="bold" class="k">a</text>
<text x="610.70" y="620.10" text-anchor="middle" font-size="8" font-weight="bold" class="k">b</text>
<path d="M613.30,485.40H629.20" stroke="#EA9880" stroke-width="1.7"/>
<circle cx="621.25" cy="485.40" r="1.53" fill="#EA9880"/>
<text x="638.70" y="488.40" font-size="8.4" font-weight="bold" letter-spacing="0.0" fill="#EA9880">MA</text>
<path d="M613.30,504.10H629.20" stroke="#E9D628" stroke-width="1.7"/>
<rect x="619.72" y="502.57" width="3.06" height="3.06" fill="#E9D628"/>
<text x="638.70" y="507.10" font-size="8.4" font-weight="bold" letter-spacing="0.0" fill="#E9D628">AH</text>
<path d="M613.80,522.80H629.70" stroke="#A4A45A" stroke-width="1.7"/>
<path d="M621.75,521.10L623.45,524.16L620.05,524.16Z" fill="#A4A45A"/>
<text x="639.70" y="525.80" font-size="8.4" font-weight="bold" letter-spacing="0.0" fill="#A4A45A">CS</text>
<path d="M613.30,541.50H629.20" stroke="#17979A" stroke-width="1.7"/>
<path d="M621.25,543.20L622.95,540.14L619.55,540.14Z" fill="#17979A"/>
<text x="639.70" y="544.50" font-size="8.4" font-weight="bold" letter-spacing="0.0" fill="#17979A">BS</text>
<path d="M613.30,560.20H629.20" stroke="#5C5CAC" stroke-width="1.7"/>
<path d="M621.25,558.24L622.36,560.20L621.25,562.15L620.14,560.20Z" fill="#5C5CAC"/>
<text x="638.70" y="563.20" font-size="8.4" font-weight="bold" letter-spacing="1.2" fill="#5C5CAC">WS</text>
<path d="M615.10,578.90H631.00" stroke="#C67ED9" stroke-width="1.7"/>
<circle cx="623.05" cy="578.90" r="2.38" fill="#C67ED9"/>
<text x="640.20" y="581.90" font-size="8.4" font-weight="bold" letter-spacing="0.0" fill="#C67ED9">CH</text>
</g>
</svg></div>
</body></html>
